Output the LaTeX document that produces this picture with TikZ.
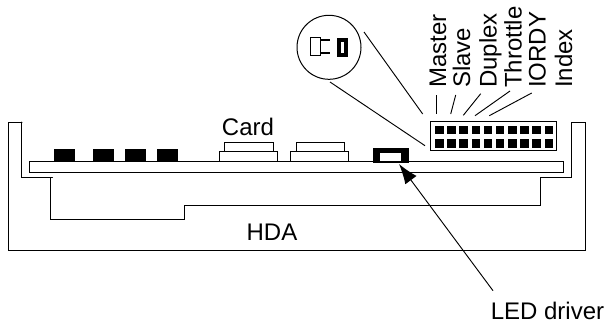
\documentclass[tikz,border=0pt]{standalone}
\usepackage{fontspec}
\setmainfont{Liberation Sans}
\usetikzlibrary{arrows.meta}
\tikzset{
    lbl/.style={font=\fontsize{18}{20}\selectfont, inner sep=0pt, anchor=base},
    vlbl/.style={lbl, rotate=90, anchor=base west},
    line/.style={line width=0.75pt, line cap=round},
    leader/.style={line width=0.7pt}
}

\begin{document}
\begin{tikzpicture}[x=0.75pt, y=-0.75pt]
    \useasboundingbox (0,0) rectangle (610,325);

    % パラメータの定義
    \pgfmathsetmacro{\pinx}{435}
    \pgfmathsetmacro{\pitch}{12.17}
    \pgfmathsetmacro{\pinw}{8.6}

    % 頂点の座標の定義
    \coordinate (CC) at (329,47.3);
    \coordinate (CA) at (364,32);
    \coordinate (CB) at (330,82);
    \coordinate (JA) at (422.7,114);
    \coordinate (JB) at (425,145.7);
    \coordinate (MA) at (436.7,95);
    \coordinate (MB) at (436.7,114);
    \coordinate (SA) at (455.7,95);
    \coordinate (SB) at (450.7,114);
    \coordinate (DA) at (480.7,93.7);
    \coordinate (DB) at (463.3,115.3);
    \coordinate (TA) at (510,91);
    \coordinate (TB) at (475,115.7);
    \coordinate (IA) at (531.7,93);
    \coordinate (IB) at (489.3,115.7);
    \coordinate (LA) at (493,290.7);
    \coordinate (LB) at (399,164);

    % ラベル
    \node[lbl] (card) at (248,135) {Card};
    \node[lbl] (hda) at (272,240) {HDA};
    \node[lbl] (led) at (547.5,319) {LED driver};
    \node[vlbl] (master) at (446,88) {Master};
    \node[vlbl] (slave) at (470,88) {Slave};
    \node[vlbl] (duplex) at (496.5,88) {Duplex};
    \node[vlbl] (throttle) at (521.7,88) {Throttle};
    \node[vlbl] (iordy) at (545.7,88) {IORDY};
    \node[vlbl] (index) at (572,88) {Index};

    % 筐体
    \draw [line] (22,122) -- (8.7,122) -- (8.7,250.7) -- (585,250.7) -- (585,122) -- (571.7,122)
        -- (571.7,177.5) -- (540,177.5) -- (540,205) -- (184,205) -- (184,219) -- (50,219)
        -- (50,177.7) -- (21.5,177.7) -- (21.5,122);
    \draw [line] (50,177.7) -- (52.5,177.7);

    % 基板と部品
    \draw [line, fill=white] (29,161.7) rectangle (563,172);
    \fill (54,149) rectangle (75,162);
    \fill (92.7,149) rectangle (113.5,162);
    \fill (125,149) rectangle (146,162);
    \fill (156.7,149) rectangle (177.5,162);
    \draw [line] (219,161.7) rectangle (277.5,151.7);
    \draw [line] (224,151.7) rectangle (273,142.3);
    \draw [line] (290,161.7) rectangle (348,151.7);
    \draw [line] (296,151.7) rectangle (344,142.3);
    \fill (373,148) rectangle (409,162.5);
    \fill [white] (380,153) rectangle (401,161);

    % ジャンパ
    \draw [line] (430,121.7) rectangle (556,150);
    \foreach \i in {0,...,9} {
        \fill ({\pinx+\i*\pitch},126) rectangle ++(\pinw,8.4);
        \fill ({\pinx+\i*\pitch},139.3) rectangle ++(\pinw,8.6);
    }

    % 拡大図
    \draw [line] (CC) circle (32);
    \draw [line] (310.7,37.3) rectangle (320.7,55.7);
    \draw [line width=1.3pt] (320.7,40) -- (330,40);
    \draw [line width=1.3pt] (320.7,52.7) -- (330,52.7);
    \fill (337,38) rectangle (348,57);
    \fill [white] (341,42) rectangle (344,53);

    % 線の描画
    \draw [leader] (CA) -- (JA);
    \draw [leader] (CB) -- (JB);
    \draw [leader] (MA) -- (MB);
    \draw [leader] (SA) -- (SB);
    \draw [leader] (DA) -- (DB);
    \draw [leader] (TA) -- (TB);
    \draw [leader] (IA) -- (IB);
    \draw [leader, -{Latex[length=15pt, width=10.5pt]}] (LA) -- (LB);
\end{tikzpicture}
\end{document}
